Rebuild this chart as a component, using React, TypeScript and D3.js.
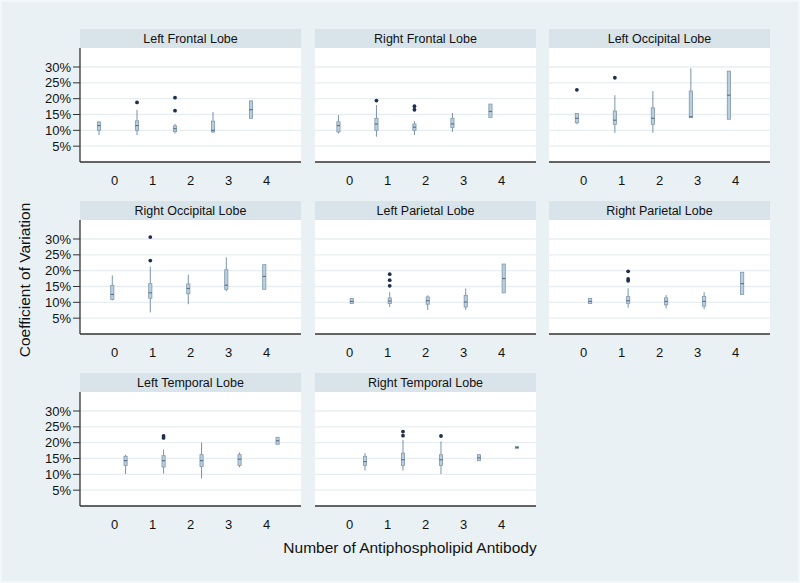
import React from 'react';
import * as d3 from 'd3';

// categories and panels
const categories = ['0', '1', '2', '3', '4'];
const lobes = [
  'Left Frontal Lobe', 'Right Frontal Lobe', 'Left Occipital Lobe', 'Right Occipital Lobe',
  'Left Parietal Lobe', 'Right Parietal Lobe', 'Left Temporal Lobe', 'Right Temporal Lobe',
];
const yTicks = [5, 10, 15, 20, 25, 30];

// box stats per category: [lower whisker, q1, median, q3, upper whisker] in %
const leftFrontal = [[8.5, 10, 11.5, 12.6, 13], [8.5, 10, 11.5, 13, 16.5], [9, 9.6, 10.5, 11.4, 12], [9.2, 9.5, 10, 12.9, 15.8], [13.8, 13.8, 16.5, 19.3, 19.3]];
const rightFrontal = [[9, 9.5, 11.5, 12.7, 14.8], [8, 10, 12, 13.8, 18], [8.5, 10, 11, 12, 12.9], [9.5, 10.9, 12, 13.8, 15.5], [14.1, 14.1, 16, 18.3, 18.3]];
const leftOccipital = [[11.9, 12.4, 13.8, 15.3, 15.3], [9.2, 11.9, 13.2, 16.1, 21.1], [9.2, 11.9, 13.8, 17.1, 22.4], [14, 14, 14.3, 22.4, 29.6], [13.5, 13.5, 21.1, 28.7, 28.7]];
const rightOccipital = [[10.6, 10.9, 12.5, 15.3, 18.5], [6.8, 11.3, 13, 15.9, 21.3], [9.4, 12.7, 14.4, 15.8, 18.7], [13.5, 14.1, 15.4, 20.3, 24.2], [14.1, 14.1, 18.2, 21.9, 21.9]];
const leftParietal = [[9.6, 9.6, 10.3, 11.2, 11.2], [8.5, 9.6, 10.4, 11.4, 13.2], [7.6, 9.4, 10.5, 11.7, 12.2], [7.6, 8.5, 10.1, 12.2, 14.4], [13, 13, 17.5, 22.1, 22.1]];
const rightParietal = [[9.6, 9.6, 10.3, 11.2, 11.2], [8.3, 9.7, 10.5, 11.8, 14.4], [8.1, 9.2, 10.3, 11.4, 12.3], [7.8, 8.8, 10.3, 11.9, 13.2], [12.5, 12.5, 15.9, 19.5, 19.5]];
const leftTemporal = [[10.1, 12.8, 14.3, 15.7, 16.2], [10.2, 12.3, 14.3, 15.9, 17.8], [8.7, 12.5, 14.3, 16.2, 20], [12.2, 12.8, 14.8, 16.2, 16.9], [19.5, 19.5, 20.6, 21.7, 21.7]];
const rightTemporal = [[11.2, 12.8, 14, 15.7, 16.7], [11.2, 12.8, 14.6, 16.7, 20.9], [10.1, 12.8, 14.6, 16.2, 20.4], [14.3, 14.3, 15.2, 16.2, 16.2], [18.2, 18.2, 18.5, 18.8, 18.8]];

// outliers per category, in %
const leftFrontalOut = [[], [18.8], [20.3, 16.2], [], []];
const rightFrontalOut = [[], [19.4], [17.6, 16.5], [], []];
const leftOccipitalOut = [[22.8], [26.6], [], [], []];
const rightOccipitalOut = [[], [30.6, 23.2], [], [], []];
const leftParietalOut = [[], [18.9, 17, 15.2], [], [], []];
const rightParietalOut = [[], [19.8, 17.4, 16.8], [], [], []];
const leftTemporalOut = [[], [22.1, 21.5], [], [], []];
const rightTemporalOut = [[], [23.5, 22.2], [22.1], [], []];

const stats = [leftFrontal, rightFrontal, leftOccipital, rightOccipital, leftParietal, rightParietal, leftTemporal, rightTemporal];
const outliers = [leftFrontalOut, rightFrontalOut, leftOccipitalOut, rightOccipitalOut, leftParietalOut, rightParietalOut, leftTemporalOut, rightTemporalOut];

const W = 800;
const H = 583;
const colLeft = [80, 315, 549];
const rowTop = [29, 201, 373];
const panelW = 221;
const stripH = 19;
const plotH = 114;
const font = '"Liberation Sans", Arial, sans-serif';

const x = d3.scaleBand<string>().domain(categories).range([0, panelW]).paddingInner(0).paddingOuter(0.408);
const sub = d3.scaleBand<string>().domain(lobes).range([-17.7, 17.7]);
const y = d3.scaleLinear().domain([0, 36]).range([plotH, 0]);

const boxW = 3.2;

const Panel = ({ idx }: { idx: number }) => {
  const col = idx % 3;
  const row = Math.floor(idx / 3);
  const left = colLeft[col];
  const top = rowTop[row] + stripH;
  const lobe = lobes[idx];
  const offset = (sub(lobe) ?? 0) + sub.bandwidth() / 2;
  return (
    <g>
      <rect x={left} y={rowTop[row]} width={panelW} height={stripH} fill="#d8e4ea" />
      <text x={left + panelW / 2} y={rowTop[row] + 14} textAnchor="middle" fontSize={12.5} fill="#111" fontFamily={font}>{lobe}</text>
      <g transform={`translate(${left},${top})`}>
        <rect x={0} y={0} width={panelW} height={plotH} fill="#fff" />
        {yTicks.map(t => (
          <line key={t} x1={0} x2={panelW} y1={y(t)} y2={y(t)} stroke="#e7eef2" strokeWidth={1.3} />
        ))}
        {stats[idx].map((s, i) => {
          const cx = (x(categories[i]) ?? 0) + x.bandwidth() / 2 + offset;
          const [lo, q1, med, q3, hi] = s;
          return (
            <g key={i}>
              <line x1={cx} x2={cx} y1={y(hi)} y2={y(q3)} stroke="#7893ad" strokeWidth={1} />
              <line x1={cx} x2={cx} y1={y(q1)} y2={y(lo)} stroke="#7893ad" strokeWidth={1} />
              <rect x={cx - boxW / 2} y={y(q3)} width={boxW} height={Math.max(1, y(q1) - y(q3))} fill="#bccddc" stroke="#7c98b2" strokeWidth={0.8} />
              <line x1={cx - boxW / 2} x2={cx + boxW / 2} y1={y(med)} y2={y(med)} stroke="#4a6480" strokeWidth={1} />
              {outliers[idx][i].map((o, j) => (
                <circle key={j} cx={cx} cy={y(o)} r={1.9} fill="#1e2f4d" />
              ))}
            </g>
          );
        })}
        <line x1={0} x2={panelW} y1={plotH} y2={plotH} stroke="#333" strokeWidth={1.3} />
        {col === 0 && (
          <g>
            <line x1={0} x2={0} y1={0} y2={plotH} stroke="#333" strokeWidth={1.3} />
            {yTicks.map(t => (
              <g key={t}>
                <line x1={-7} x2={0} y1={y(t)} y2={y(t)} stroke="#333" strokeWidth={1} />
                <text x={-9} y={y(t) + 4.5} textAnchor="end" fontSize={13} fill="#111" fontFamily={font}>{`${t}%`}</text>
              </g>
            ))}
          </g>
        )}
        {categories.map(c => (
          <text key={c} x={(x(c) ?? 0) + x.bandwidth() / 2} y={plotH + 23} textAnchor="middle" fontSize={13} fill="#111" fontFamily={font}>{c}</text>
        ))}
      </g>
    </g>
  );
};

export default function App() {
  return (
    <div style={{ position: 'fixed', left: 0, top: 0 }}>
      <svg width={W} height={H} style={{ display: 'block' }}>
        <rect x={0} y={0} width={W} height={H} fill="#f3f7f8" />
        <rect x={2} y={2} width={W - 4} height={H - 4} fill="#eaf1f4" />
        {lobes.map((l, i) => <Panel key={l} idx={i} />)}
        <text x={410} y={553} textAnchor="middle" fontSize={15.5} fill="#111" fontFamily={font}>Number of Antiphospholipid Antibody</text>
        <text transform="translate(30,280) rotate(-90)" textAnchor="middle" fontSize={15.5} fill="#111" fontFamily={font}>Coefficient of Variation</text>
      </svg>
    </div>
  );
}
